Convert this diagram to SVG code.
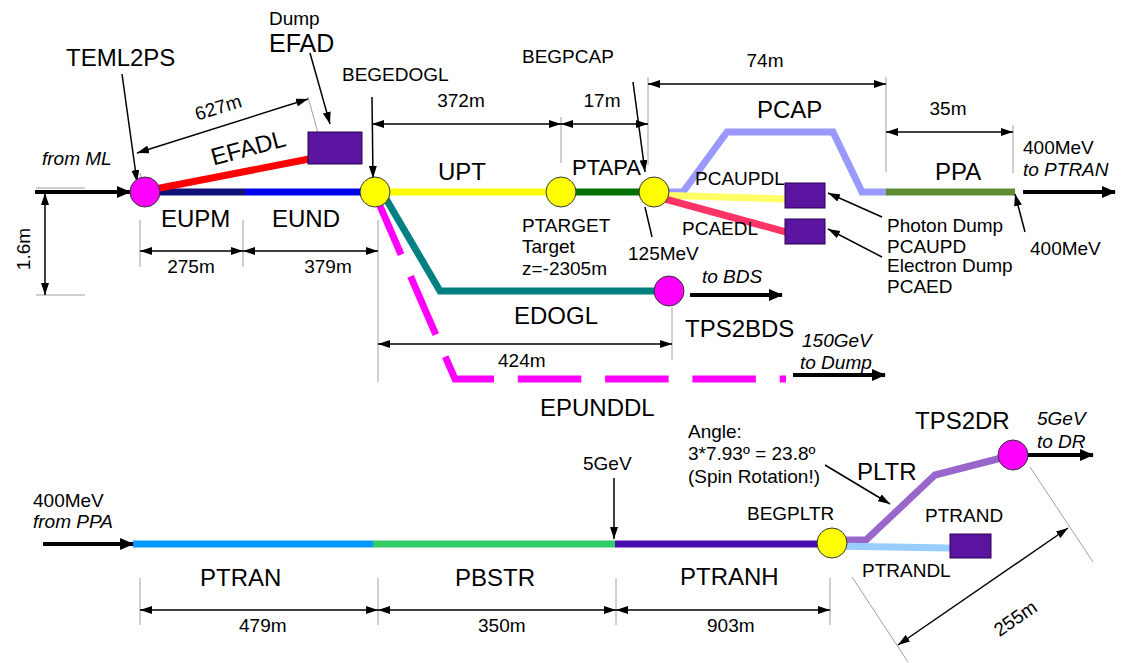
<svg xmlns="http://www.w3.org/2000/svg" width="1124" height="663" viewBox="0 0 1124 663">
<style>
text{font-family:"Liberation Sans",Arial,sans-serif;fill:#000}
.s{font-size:19px}
.b{font-size:24px}
.i{font-style:italic}
.m{text-anchor:middle}
.beam{fill:none;stroke-width:7;stroke-linejoin:miter;stroke-linecap:butt}
.dim{stroke:#000;stroke-width:1.5;fill:none;marker-start:url(#ah);marker-end:url(#ah)}
.ptr{stroke:#000;stroke-width:1.5;fill:none;marker-end:url(#ah)}
.thick{stroke:#000;stroke-width:4;fill:none;marker-end:url(#big)}
.ext{stroke:#a0a0a0;stroke-width:1;fill:none}
.mag{fill:#ff00ff;stroke:#333;stroke-width:1}
.yel{fill:#ffff00;stroke:#333;stroke-width:1}
.box{fill:#5a14a0;stroke:#2a0050;stroke-width:1}
</style>
<defs>
<marker id="ah" viewBox="0 0 12 8" refX="12" refY="4" markerWidth="12" markerHeight="8" markerUnits="userSpaceOnUse" orient="auto-start-reverse"><path d="M0,0 L12,4 L0,8 z" fill="#000"/></marker>
<marker id="big" viewBox="0 0 14 12" refX="13" refY="6" markerWidth="14" markerHeight="12" markerUnits="userSpaceOnUse" orient="auto"><path d="M0,0 L14,6 L0,12 z" fill="#000"/></marker>
</defs>
<rect width="1124" height="663" fill="#fff"/>

<g id="connectors">
  <!-- extension lines -->
  <path class="ext" d="M140,220V267 M243,220V267 M378,220V382 M36,188H85 M36,295H85 M308,97L320,140 M140,173L146,191 M561,117V163 M648,77V165 M886,77V172 M1013,125V173 M672,307V360 M140,578V625 M378,578V625 M616,578V625 M830,578V625 M852,577L908,662 M1030,467L1093,562"/>
  <!-- beamlines top -->
  <path class="beam" stroke="#10107a" d="M145,192H245"/>
  <path class="beam" stroke="#0000f0" d="M245,192H375"/>
  <path class="beam" stroke="#ff0000" stroke-width="6" d="M150,190L309,159"/>
  <path class="beam" stroke="#ffff00" d="M375,192H561"/>
  <path class="beam" stroke="#007000" d="M561,192H654"/>
  <path class="beam" stroke="#9999ff" d="M654,192H683L727,132H833L862,192H886"/>
  <path class="beam" stroke="#5e8c31" d="M886,192H1015"/>
  <path class="beam" stroke="#ffff66" d="M654,195L785,199"/>
  <path class="beam" stroke="#ff3366" d="M654,196L786,232"/>
  <path class="beam" stroke="#008080" d="M382,192L440,291H669"/>
  <path class="beam" stroke="#ff00ff" stroke-width="8" stroke-dasharray="63.5 23.8" stroke-dashoffset="82.6" d="M374,192L455,379H786"/>
  <!-- beamlines bottom -->
  <path class="beam" stroke="#0099ff" d="M133,544H373"/>
  <path class="beam" stroke="#33cc66" d="M373,544H615"/>
  <path class="beam" stroke="#4a0db0" stroke-width="8" d="M615,544H832"/>
  <path class="beam" stroke="#9966cc" d="M832,540H866L935,475L1013,455"/>
  <path class="beam" stroke="#99ccff" d="M832,546L950,548"/>
  <!-- thick flow arrows -->
  <path class="thick" d="M35,192H130"/>
  <path class="thick" d="M1023,192H1115"/>
  <path class="thick" d="M690,295H782"/>
  <path class="thick" d="M793,375H885"/>
  <path class="thick" d="M43,544H133"/>
  <path class="thick" d="M1028,455H1093"/>
  <!-- pointers -->
  <path class="ptr" d="M122,74L137,182"/>
  <path class="ptr" d="M310,53L330,124"/>
  <path class="ptr" d="M372,97L373,178"/>
  <path class="ptr" d="M633,82L645,172"/>
  <path stroke="#000" stroke-width="1.5" d="M645,207L652,237"/>
  <path class="ptr" d="M882,217L828,193"/>
  <path class="ptr" d="M882,257L828,229"/>
  <path class="ptr" d="M1025,232L1015,194"/>
  <path class="ptr" d="M614,478V539"/>
  <path class="ptr" d="M825,465L890,504"/>
  <!-- dimensions -->
  <path class="dim" d="M137,153L308,99"/>
  <path class="dim" d="M140,251H243"/>
  <path class="dim" d="M243,251H378"/>
  <path class="dim" d="M45,193V295"/>
  <path class="dim" d="M372,124H561"/>
  <path class="dim" d="M561,124H648"/>
  <path class="dim" d="M648,84H886"/>
  <path class="dim" d="M886,132H1013"/>
  <path class="dim" d="M378,344H672"/>
  <path class="dim" d="M140,610H378"/>
  <path class="dim" d="M378,610H616"/>
  <path class="dim" d="M616,610H830"/>
  <path class="dim" d="M898,645L1068,528"/>
</g>

<g id="dimension-labels">
  <text class="s m" x="218" y="114" transform="rotate(-17 218 107)">627m</text>
  <text class="s m" x="191" y="273">275m</text>
  <text class="s m" x="328" y="273">379m</text>
  <text class="s m" x="23" y="256" transform="rotate(-90 23 249)">1.6m</text>
  <text class="s m" x="461" y="107">372m</text>
  <text class="s m" x="602" y="107">17m</text>
  <text class="s m" x="765" y="67">74m</text>
  <text class="s m" x="948" y="115">35m</text>
  <text class="s" x="498" y="367">424m</text>
  <text class="s" x="239" y="632">479m</text>
  <text class="s" x="478" y="632">350m</text>
  <text class="s" x="707" y="632">903m</text>
  <text class="s m" x="1015" y="625" transform="rotate(-34.5 1015 618)">255m</text>
</g>

<g id="from-ML"><text class="s i" x="42" y="165">from ML</text></g>
<g id="TEML2PS"><circle class="mag" cx="145" cy="192" r="15"/><text class="b" x="66" y="66">TEML2PS</text></g>
<g id="EFADL"><text class="b m" x="248" y="156" transform="rotate(-15 248 147)">EFADL</text></g>
<g id="EFAD"><rect class="box" x="308" y="132" width="54" height="32"/><text class="s" x="269" y="25">Dump</text><text x="269" y="52" style="font-size:25px">EFAD</text></g>
<g id="EUPM"><text class="b" x="161" y="227">EUPM</text></g>
<g id="EUND"><text class="b" x="272" y="227">EUND</text></g>
<g id="BEGEDOGL"><circle class="yel" cx="375" cy="192" r="15"/><text class="s" x="342" y="81">BEGEDOGL</text></g>
<g id="UPT"><text class="b" x="438" y="180">UPT</text></g>
<g id="PTARGET"><circle class="yel" cx="561" cy="192" r="15"/><text class="s" x="522" y="232">PTARGET</text><text class="s" x="522" y="253">Target</text><text class="s" x="522" y="275">z=-2305m</text></g>
<g id="PTAPA"><text x="572" y="175" style="font-size:22px">PTAPA</text></g>
<g id="BEGPCAP"><circle class="yel" cx="654" cy="192" r="15"/><text class="s" x="522" y="63">BEGPCAP</text><text class="s" x="628" y="260">125MeV</text></g>
<g id="PCAP"><text class="b" x="757" y="118">PCAP</text></g>
<g id="PCAUPDL"><text class="s" x="695" y="185">PCAUPDL</text></g>
<g id="PCAEDL"><text class="s" x="682" y="235">PCAEDL</text></g>
<g id="PCAUPD"><rect class="box" x="785" y="183" width="40" height="25"/><text class="s" x="887" y="232">Photon Dump</text><text class="s" x="887" y="253">PCAUPD</text></g>
<g id="PCAED"><rect class="box" x="785" y="219" width="40" height="25"/><text class="s" x="887" y="272">Electron Dump</text><text class="s" x="887" y="293">PCAED</text></g>
<g id="PPA"><text class="b" x="935" y="180">PPA</text><text class="s" x="1030" y="255">400MeV</text></g>
<g id="to-PTRAN"><text class="s" x="1023" y="154">400MeV</text><text class="s i" x="1023" y="176">to PTRAN</text></g>
<g id="EDOGL"><text class="b" x="514" y="324">EDOGL</text></g>
<g id="TPS2BDS"><circle class="mag" cx="669" cy="291" r="15"/><text class="b" x="685" y="337">TPS2BDS</text><text class="s i" x="702" y="283">to BDS</text></g>
<g id="EPUNDDL"><text class="b" x="540" y="416">EPUNDDL</text><text class="s i" x="802" y="347">150GeV</text><text class="s i" x="800" y="369">to Dump</text></g>

<g id="from-PPA"><text class="s" x="33" y="507">400MeV</text><text class="s i" x="33" y="528">from PPA</text></g>
<g id="PTRAN"><text class="b" x="200" y="586">PTRAN</text></g>
<g id="PBSTR"><text class="b" x="455" y="586">PBSTR</text></g>
<g id="PTRANH"><text class="b" x="680" y="585">PTRANH</text><text class="s" x="583" y="470">5GeV</text></g>
<g id="BEGPLTR"><circle class="yel" cx="832" cy="543" r="15"/><text class="s" x="747" y="520">BEGPLTR</text></g>
<g id="PLTR"><text class="b" x="857" y="480">PLTR</text><text class="s" x="688" y="438">Angle:</text><text class="s" x="688" y="460">3*7.93º = 23.8º</text><text class="s" x="688" y="483">(Spin Rotation!)</text></g>
<g id="PTRANDL"><text class="s" x="862" y="577">PTRANDL</text></g>
<g id="PTRAND"><rect class="box" x="950" y="534" width="41" height="24"/><text class="s" x="925" y="522">PTRAND</text></g>
<g id="TPS2DR"><circle class="mag" cx="1013" cy="455" r="15"/><text class="b" x="915" y="429">TPS2DR</text><text class="s i" x="1037" y="425">5GeV</text><text class="s i" x="1037" y="448">to DR</text></g>
</svg>
